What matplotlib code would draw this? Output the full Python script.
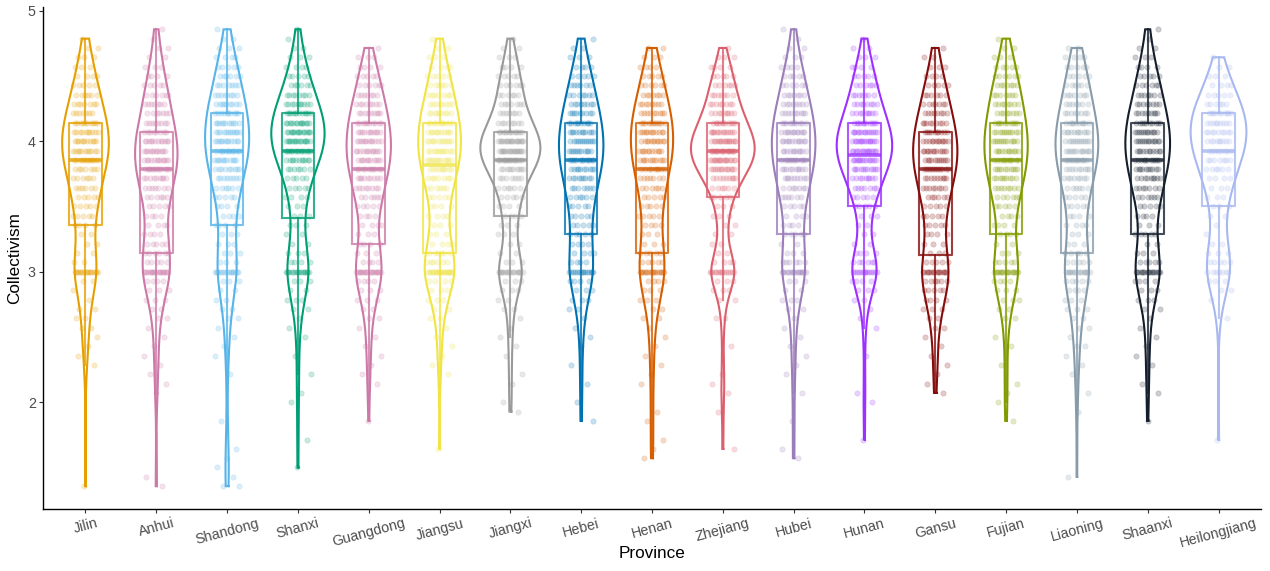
import numpy as np
import matplotlib
matplotlib.use("Agg")
import matplotlib.pyplot as plt

plt.rcParams['font.family'] = ['Liberation Sans', 'DejaVu Sans']

provinces = ["Jilin", "Anhui", "Shandong", "Shanxi", "Guangdong", "Jiangsu", "Jiangxi",
             "Hebei", "Henan", "Zhejiang", "Hubei", "Hunan", "Gansu", "Fujian",
             "Liaoning", "Shaanxi", "Heilongjiang"]
colors = ["#E69F00", "#CC79A7", "#56B4E9", "#009E73", "#CC79A7", "#F0E442", "#999999",
          "#0072B2", "#D55E00", "#DC5F6E", "#9B7DB9", "#9B30FF", "#850C0C", "#809B00",
          "#879BAA", "#141E2D", "#A8B8F0"]

# score levels (means of 14 items), from 68/14 down to 19/14
levels = np.arange(68, 18, -1) / 14.0

# number of respondents at each level (same order as `levels`)
cnt_jilin = [0,1,2,3,3,4,5,6,7,7, 10,10,11,11,12,7,6,6,5,5, 5,4,2,2,2,2,18,2,1,1, 2,2,2,1,1,1,1,0,0,0, 0,0,0,0,0,0,0,0,0,1]
cnt_anhui = [1,1,2,2,3,4,5,6,7,7, 8,8,12,12,12,12,9,7,6,5, 4,4,4,5,6,5,19,4,3,3, 2,2,1,1,1,1,1,1,1,1, 0,0,0,0,0,0,0,0,1,1]
cnt_shandong = [1,2,3,4,5,6,7,8,9,10, 11,12,12,12,11,9,8,6,5,4, 4,4,3,3,3,3,15,3,2,2, 2,2,1,1,1,1,0,1,0,0, 0,0,1,0,0,1,1,1,1,2]
cnt_shanxi = [1,1,2,3,4,5,6,8,10,12, 14,16,16,14,11,7,5,5,4,3, 3,3,2,2,3,4,17,3,2,3, 2,1,1,1,0,1,0,1,0,1, 1,0,0,0,1,0,0,1,0,0]
cnt_guangdong = [0,0,1,3,4,5,6,7,8,9, 10,11,12,12,11,10,9,8,6,5, 4,4,3,4,3,4,20,4,3,3, 2,2,1,1,1,1,1,1,1,0, 0,0,1,0,0,0,0,0,0,0]
cnt_jiangsu = [0,1,2,3,4,5,6,7,8,9, 10,11,12,11,12,9,7,6,5,4, 4,3,3,4,6,6,23,4,3,3, 2,2,1,1,1,1,1,1,0,0, 0,0,0,0,0,1,0,0,0,0]
cnt_jiangxi = [0,1,2,3,4,5,6,6,7,7, 8,13,19,19,17,10,7,6,5,4, 4,3,3,2,2,3,17,3,3,2, 2,1,1,1,1,1,0,1,1,0, 1,1,0,0,0,0,0,0,0,0]
cnt_hebei = [0,1,2,3,4,5,6,7,8,9, 10,11,12,11,12,10,9,7,6,5, 5,5,5,4,4,4,15,4,3,3, 2,1,1,1,1,0,1,0,1,0, 1,0,1,0,0,0,0,0,0,0]
cnt_henan = [0,0,2,3,4,5,6,7,8,9, 11,12,12,11,11,9,7,6,5,5, 5,4,3,3,5,5,19,4,3,3, 2,2,1,1,1,1,1,1,1,0, 0,1,1,0,1,1,1,0,0,0]
cnt_zhejiang = [0,0,1,3,4,5,6,7,8,9, 11,14,17,18,17,13,9,6,5,3, 3,2,2,2,2,4,15,3,3,2, 0,2,0,0,1,0,0,1,1,1, 0,1,0,0,0,1,0,0,0,0]
cnt_hubei = [1,1,2,3,4,5,6,7,8,9, 10,12,12,11,11,10,9,7,6,5, 4,4,5,2,3,6,17,3,2,3, 2,1,1,1,1,1,1,1,0,1, 0,0,1,0,0,1,1,0,0,0]
cnt_hunan = [0,1,2,3,4,5,6,7,8,9, 11,14,15,15,14,11,9,7,5,5, 3,2,2,2,4,6,14,4,3,2, 1,1,1,0,0,1,0,0,0,1, 1,0,0,0,1,0,0,0,0,0]
cnt_gansu = [0,0,1,2,3,4,5,6,7,8, 9,10,12,12,11,12,9,8,6,5, 5,5,4,3,3,5,16,6,5,4, 3,2,2,1,1,1,1,1,1,1, 0,0,0,0,0,0,0,0,0,0]
cnt_fujian = [0,1,2,3,5,6,7,7,8,8, 10,11,12,11,11,10,9,8,6,5, 4,4,4,2,3,5,18,4,3,3, 2,2,0,1,1,0,1,0,1,1, 1,0,1,0,0,0,0,0,0,0]
cnt_liaoning = [0,0,2,4,5,5,6,7,7,8, 10,11,12,12,12,9,8,6,5,5, 4,4,3,3,5,5,15,5,4,3, 3,2,2,1,2,1,1,1,0,1, 0,1,0,0,0,0,0,0,1,0]
cnt_shaanxi = [1,1,2,3,4,5,6,7,8,9, 10,12,13,11,11,10,9,7,6,5, 4,3,5,2,3,5,18,4,3,3, 2,1,1,1,1,1,1,0,1,1, 0,0,1,0,0,0,0,0,0,0]
cnt_heilongjiang = [0,0,0,1,2,3,4,5,6,10, 9,9,9,8,7,6,4,3,3,3, 2,1,1,2,3,5,7,3,2,1, 0,1,0,0,0,0,0,0,0,0, 0,0,0,0,1,0,0,0,0,0]

all_counts = [cnt_jilin, cnt_anhui, cnt_shandong, cnt_shanxi, cnt_guangdong, cnt_jiangsu,
              cnt_jiangxi, cnt_hebei, cnt_henan, cnt_zhejiang, cnt_hubei, cnt_hunan,
              cnt_gansu, cnt_fujian, cnt_liaoning, cnt_shaanxi, cnt_heilongjiang]
data = [np.repeat(levels, c) for c in all_counts]


def bw_nrd0(x):
    sd = np.std(x, ddof=1)
    q75, q25 = np.percentile(x, [75, 25])
    lo = min(sd, (q75 - q25) / 1.34)
    return 0.9 * lo * len(x) ** -0.2


def kde(x, grid):
    bw = bw_nrd0(x)
    z = (grid[:, None] - x[None, :]) / bw
    return np.exp(-0.5 * z ** 2).sum(axis=1) / (len(x) * bw * np.sqrt(2 * np.pi))


grids, dens = [], []
for x in data:
    g = np.linspace(x.min(), x.max(), 512)
    grids.append(g)
    dens.append(kde(x, g))
dmax = max(d.max() for d in dens)

fig = plt.figure(figsize=(12.7, 5.71), dpi=100)
ax = fig.add_axes([43 / 1270, 62 / 571, 1218 / 1270, 502.5 / 571])

positions = np.arange(1, len(provinces) + 1)
for pos, g, d, col in zip(positions, grids, dens, colors):
    hw = 0.45 * d / dmax
    xs = np.concatenate([pos + hw, (pos - hw)[::-1], [pos + hw[0]]])
    ys = np.concatenate([g, g[::-1], [g[0]]])
    ax.plot(xs, ys, color=col, lw=1.5, zorder=2, solid_joinstyle='miter')

bp = ax.boxplot(data, positions=positions, widths=0.46, whis=1.5, showfliers=False,
                manage_ticks=False, patch_artist=False)
for i, col in enumerate(colors):
    bp['boxes'][i].set(color=col, lw=1.5, alpha=0.8, zorder=3)
    bp['medians'][i].set(color=col, lw=2.6, alpha=0.8, zorder=3, solid_capstyle='butt')
    for w in bp['whiskers'][2 * i:2 * i + 2]:
        w.set(color=col, lw=1.5, alpha=0.8, zorder=3)
    for cp in bp['caps'][2 * i:2 * i + 2]:
        cp.set_visible(False)

phi = 0.6180339887
for pos, x, col in zip(positions, data, colors):
    idx = np.arange(len(x))
    off = (((idx * phi + 0.37 * pos) % 1.0) - 0.5) * 2 * 0.18
    ax.scatter(pos + off, x, s=15, color=col, alpha=0.22, linewidths=0.4,
               edgecolors=col, zorder=4)

ax.set_xlim(0.4, 17.6)
ax.set_ylim(1.182, 5.032)
ax.set_xticks(positions)
ax.set_xticklabels(provinces, rotation=15, ha='center', fontsize=10.3, color='#4D4D4D')
ax.set_yticks([2, 3, 4, 5])
ax.set_yticklabels(['2', '3', '4', '5'], fontsize=10.3, color='#4D4D4D')
ax.tick_params(axis='both', length=3.2, width=0.8, color='#333333', pad=2)
for s in ['top', 'right']:
    ax.spines[s].set_visible(False)
for s in ['left', 'bottom']:
    ax.spines[s].set_linewidth(1.0)
    ax.spines[s].set_color('black')

ax.set_xlabel('Province', fontsize=12.3, color='black')
ax.xaxis.set_label_coords(0.5, -0.0876)
ax.xaxis.label.set_va('center')
ax.set_ylabel('Collectivism', fontsize=12.3, color='black')
ax.yaxis.set_label_coords(-0.023, 0.5)
ax.yaxis.label.set_va('center')

fig.savefig('out.png', dpi=100)
